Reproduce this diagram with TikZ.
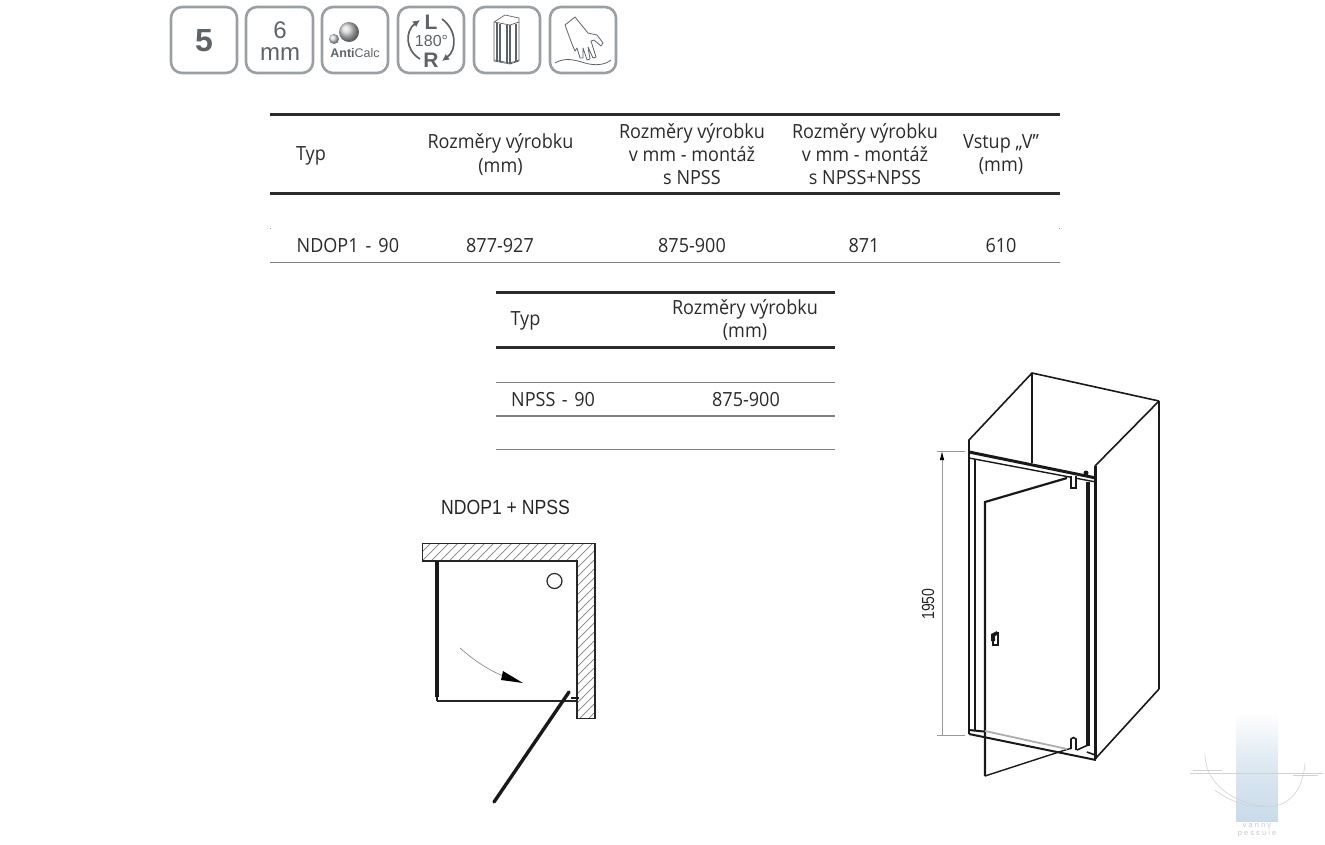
\documentclass[tikz,border=0pt]{standalone}
\usepackage{fontspec}
\setmainfont{Open Sans}
\newfontfamily\arialf{Liberation Sans}
\usetikzlibrary{arrows.meta,calc}
\definecolor{ikon}{HTML}{9A9FA3}
\definecolor{ikontxt}{HTML}{5E6368}
\definecolor{tbl}{HTML}{2B2B2B}
\definecolor{rowline}{HTML}{808080}
\definecolor{wm}{HTML}{C9DBEA}
\tikzset{
 iconbox/.style={draw=ikon,line width=2.6pt,rounded corners=11pt,fill=white},
 cell/.style={font=\fontsize{19.5}{23.2}\selectfont,text=tbl,align=center,inner sep=0pt,xscale=.925},
 heavy/.style={draw=tbl,line width=3pt},
 light/.style={draw=rowline,line width=1.1pt},
 dwg/.style={draw=black!90,line width=1.6pt,line join=miter},
 thick dwg/.style={draw=black!90,line width=3pt},
 dim/.style={draw=black!40,line width=.8pt},
 wmline/.style={draw=black!18,line width=.6pt},
}
\begin{document}
\begin{tikzpicture}[x=1pt,y=-1pt]
\useasboundingbox (0,0) rectangle (1325,844);
\fill[white] (0,0) rectangle (1325,844);
% icons
\draw[iconbox] (171,7) rectangle (237,73);
\draw[iconbox] (246,7) rectangle (313,73);
\draw[iconbox] (322,7) rectangle (388,73);
\draw[iconbox] (398,7) rectangle (464,73);
\draw[iconbox] (474,7) rectangle (540,73);
\draw[iconbox] (550,7) rectangle (616,73);
\node[font=\arialf\bfseries\fontsize{32}{32}\selectfont,text=ikontxt,inner sep=0pt] (i5) at (204,41) {5};
\node[font=\arialf\fontsize{24}{22}\selectfont,text=ikontxt,inner sep=0pt,align=center] (i6) at (280,41) {6\\mm};
\shade[ball color=ikon!50] (349,32) circle (10);
\shade[ball color=ikon!40] (334,39) circle (5);
\node[font=\arialf\fontsize{12.5}{12}\selectfont,text=ikontxt,inner sep=0pt] (iac) at (355,53) {\textbf{Anti}Calc};
\node[font=\arialf\bfseries\fontsize{21}{21}\selectfont,text=ikontxt,inner sep=0pt] (iL) at (431,22) {L};
\node[font=\arialf\bfseries\fontsize{21}{21}\selectfont,text=ikontxt,inner sep=0pt] (iR) at (431,60) {R};
\node[font=\arialf\fontsize{16}{16}\selectfont,text=ikontxt,inner sep=0pt] (i180) at (431.5,41) {180°};
\draw[ikontxt,line width=1.7pt,-{Latex[length=7pt,width=7pt]}] (420,59) .. controls (405,50) and (405,31) .. (420,20);
\draw[ikontxt,line width=1.7pt,-{Latex[length=7pt,width=7pt]}] (442,19) .. controls (457,30) and (457,50) .. (442,61);
% shower icon
\begin{scope}[ikontxt,line width=.7pt]
\draw (494,22) -- (505,15) -- (519,18) -- (519,22) -- (510,25) -- (494,22);
\draw (494,22) -- (494,61) -- (510,64) -- (519,61) -- (519,22);
\draw[line width=1.2pt] (497,23) -- (497,62) (500,24) -- (500,62) (507,25) -- (507,63) (510,25) -- (510,64) (516,24) -- (516,62);
\draw (494,60) -- (510,63) -- (519,60);
\end{scope}
% hand icon
\begin{scope}[ikontxt,line width=.8pt,line join=round]
\draw (565,25) -- (575,17) -- (588,33) -- (597,35) -- (603,43) -- (601,46) -- (594,40) -- (591,41)
 -- (596,57) -- (593,58) -- (588,47) -- (590,59) -- (587,60) -- (583,48) -- (583,58) -- (580,58) -- (577,48) -- (575,51) -- (572,44) -- (565,25);
\draw (555,63) .. controls (565,57) and (575,60) .. (585,63) .. controls (595,66) and (605,65) .. (611,60);
\end{scope}
% table 1
\draw[heavy] (270,114) -- (1060,114);
\draw[heavy] (270,193) -- (1060,193);
\draw[light] (270,262.5) -- (1060,262.5);
\draw[draw=black!45,line width=.6pt] (270,228) -- (270.8,228) (1059.2,228) -- (1060,228);
\node[cell] (h1) at (311,156) {Typ};
\node[cell] (h2) at (500.5,154.5) {Rozměry výrobku\\(mm)};
\node[cell] (h3) at (692,154) {Rozměry výrobku\\v mm - montáž\\s NPSS};
\node[cell] (h4) at (865,154) {Rozměry výrobku\\v mm - montáž\\s NPSS+NPSS};
\node[cell] (h5) at (1001,154.5) {Vstup „V”\\(mm)};
\node[cell,anchor=west] (r1) at (296.5,246) {NDOP1\hspace{2.5pt} - \hspace{2.5pt}90};
\node[cell] (r2) at (500,246) {877-927};
\node[cell] (r3) at (692,246) {875-900};
\node[cell] (r4) at (864,246) {871};
\node[cell] (r5) at (1001,246) {610};
% table 2
\draw[heavy] (496,292.5) -- (835,292.5);
\draw[heavy] (496,347.5) -- (835,347.5);
\draw[light] (496,382.5) -- (835,382.5);
\draw[light] (496,416) -- (835,416);
\draw[light] (496,449.5) -- (835,449.5);
\node[cell] (t1) at (525.5,321) {Typ};
\node[cell] (t2) at (745,320) {Rozměry výrobku\\(mm)};
\node[cell,anchor=west] (t3) at (511,400) {NPSS\hspace{2pt} - \hspace{2pt}90};
\node[cell] (t4) at (746,400) {875-900};
% plan
\node[font=\arialf\fontsize{20.5}{20}\selectfont,text=black!85,inner sep=0pt,xscale=.86] (plan) at (505.5,507.5) {NDOP1 + NPSS};
\begin{scope}
\clip (422.5,543.5) -- (595,543.5) -- (595,718.5) -- (577,718.5) -- (577,561) -- (422.5,561) -- cycle;
\foreach \s in {965,974,...,1313} \draw[black!50,line width=.7pt] (\s-543,543) -- (\s-719,719);
\end{scope}
\draw[draw=black!85,line width=1.1pt] (422.5,543.5) -- (595,543.5) -- (595,718.5) -- (577,718.5) -- (577,561) -- (422.5,561) -- cycle;
\draw[draw=black!85,line width=1.6pt] (437,561) -- (577,561);
\draw[draw=black!85,line width=1.6pt] (437,701) -- (577,701);
\draw[thick dwg,line width=3.2pt] (437,561) -- (437,697);
\draw[thick dwg,line width=1.4pt] (437,697) -- (437,701);
\draw[thick dwg,line width=2.8pt] (571,698) -- (579,698);
\draw[draw=black!85,line width=1.2pt] (554.5,581) circle (7.5);
\coordinate (hingeA) at (569,692);
\coordinate (doorB) at (494,802);
\draw[thick dwg,line width=3.4pt,line cap=round] (hingeA) -- (doorB);
\draw[draw=black!45,line width=.7pt] (460,648) .. controls (476,662) and (490,671) .. (506,677);
\fill[black] (503,671) -- (523,683) -- (501,680) -- cycle;
% 3D
\begin{scope}
\draw[dwg] (1159,401) -- (1032,373) -- (969,440) -- (969,452);
\draw[dwg,line width=1.2pt] (1032,373) -- (1032,463);
\draw[dwg] (1159,401) -- (1095,466);
\draw[dwg,line width=1.2pt] (1159,401) -- (1159,689);
\draw[dwg] (1159,689) -- (1096,758);
% frame
\draw[dwg,line width=3pt] (969,452) -- (1096,478);
\draw[dwg,line width=1.4pt] (969,458) -- (1096,482);
\draw[dwg,line width=1.4pt] (969,452) -- (969,458);
\draw[dwg,line width=2.5pt] (969,458) -- (969,734);
\draw[dwg,line width=2.5pt] (975,459) -- (975,730);
\draw[dwg,line width=2.5pt] (1095.5,466) -- (1095.5,759);
\draw[dwg,line width=3.4pt] (1088,482) -- (1088,746);
% bottom
\draw[dwg,line width=2pt] (969,734) -- (1096,760);
\draw[dwg,line width=2pt] (969,730) -- (984,731.5);
\draw[dwg] (1077,750) -- (1088,745);
\draw[dwg] (1087,752) -- (1095,755);
% door
\draw[dwg,line width=2.2pt] (1067,478) -- (985,502) -- (985,776);
\draw[dwg,line width=1.4pt] (985,776) -- (1062,751) -- (1072,748);
\draw[draw=black!32,line width=1.8pt] (985,731) -- (1067,749);
% hinges and handle
\draw[dwg,line width=1.3pt,fill=white] (1071,476) -- (1071,488) -- (1076,488) -- (1076,476);
\draw[dwg,line width=1.6pt,fill=white] (1071,749) -- (1071,739) .. controls (1072,737) and (1075,737) .. (1076,739) -- (1076,750);
\draw[dwg,line width=1.3pt] (993,637) -- (993,645) -- (998,645) -- (998,632);
\fill[black!90] (991,634) -- (997,631) -- (997,635) -- (995,636) -- (995,641) -- (991,641) -- cycle;
\fill[black!90] (1086,473) circle (2.5);
\end{scope}
% dimension
\coordinate (dimT) at (942,451);
\coordinate (dimB) at (942,735);
\draw[dim] (937,451) -- (965,451);
\draw[dim] (937,735) -- (965,735);
\draw[dim,-{Latex[length=9pt,width=4.5pt,black]},{Latex[length=9pt,width=4.5pt,black]}-] (dimT) -- (dimB);
\node[font=\arialf\fontsize{17.5}{17}\selectfont,rotate=90,text=black!85,inner sep=0pt,xscale=.8] (d1950) at (928,604) {1950};
% watermark
\shade[top color=white,bottom color=wm,middle color=wm!65] (1236,712) rectangle (1278,821);
\draw[wmline] (1190,773) -- (1323,773);
\draw[wmline] (1193,770) -- (1222,770) (1193,773.5) -- (1225,773.5) (1293,775) -- (1318,775);
\draw[wmline] (1205,755) .. controls (1206,790) and (1245,808) .. (1275,806) .. controls (1290,803) and (1303,790) .. (1305,763);
\draw[wmline] (1215,790) .. controls (1230,802) and (1250,808) .. (1265,806);
\node[font=\arialf\fontsize{7.5}{7.5}\selectfont,text=black!22,inner sep=0pt,align=center] (wmt) at (1257,830) {v a n n y\\p e s s u i e};
\end{tikzpicture}
\end{document}
